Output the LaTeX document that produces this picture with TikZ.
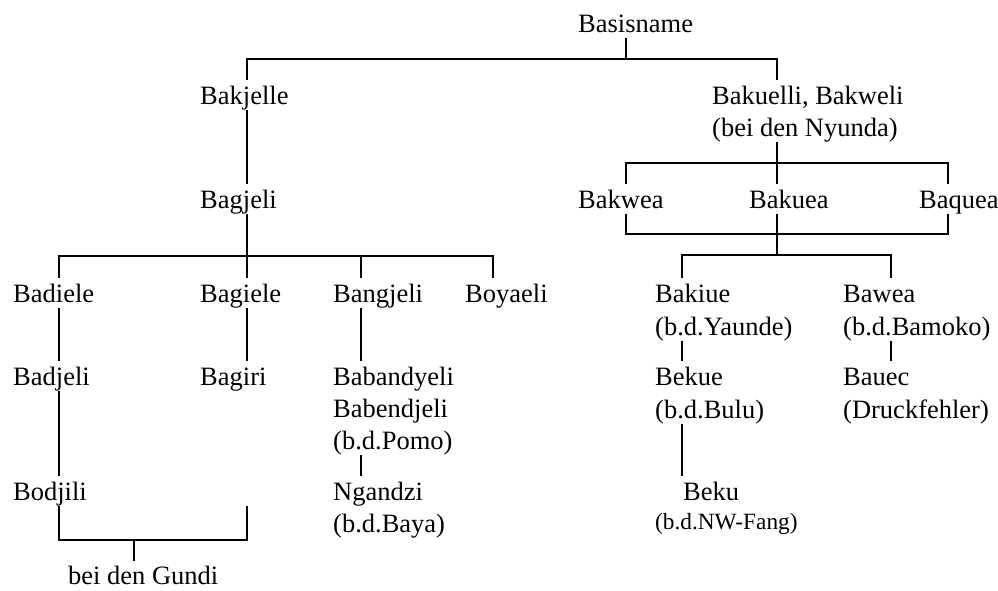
\documentclass[tikz,border=0pt]{standalone}
\usepackage{fontspec}
\setmainfont{Liberation Serif}
\begin{document}
\begin{tikzpicture}[x=1pt,y=-1pt,
  lbl/.style={anchor=base west,inner sep=0pt,text height=25pt,text depth=7pt,
    font=\fontsize{26.5}{32}\selectfont},
  small/.style={font=\fontsize{23.3}{28}\selectfont},
  link/.style={line width=2pt,line cap=rect}]
\useasboundingbox (0,0) rectangle (998,590);

% column positions of the vertical strokes
\coordinate (c1) at (59,0);
\coordinate (c2) at (134,0);
\coordinate (c3) at (247,0);
\coordinate (c4) at (361,0);
\coordinate (c5) at (493,0);
\coordinate (c6) at (626,0);
\coordinate (c7) at (682,0);
\coordinate (c8) at (777,0);
\coordinate (c9) at (891,0);
\coordinate (c10) at (948,0);
% levels of the horizontal bars
\coordinate (rT) at (0,59);
\coordinate (rL) at (0,256);
\coordinate (rR1) at (0,163);
\coordinate (rR2) at (0,234);
\coordinate (rR3) at (0,255);
\coordinate (rG) at (0,540);

% names
\node[lbl] (basis) at (578,32) {Basisname};
\node[lbl] (bakjelle) at (200,104) {Bakjelle};
\node[lbl] (bakuelli) at (712,104) {Bakuelli, Bakweli};
\node[lbl] (bakuelliB) at (712,136) {(bei den Nyunda)};
\node[lbl] (bagjeli) at (200,208) {Bagjeli};
\node[lbl] (bakwea) at (578,208) {Bakwea};
\node[lbl] (bakuea) at (749,208) {Bakuea};
\node[lbl] (baquea) at (919,208) {Baquea};
\node[lbl] (badiele) at (13,302) {Badiele};
\node[lbl] (bagiele) at (200,302) {Bagiele};
\node[lbl] (bangjeli) at (333,302) {Bangjeli};
\node[lbl] (boyaeli) at (465,302) {Boyaeli};
\node[lbl] (bakiue) at (655,302) {Bakiue};
\node[lbl] (bawea) at (843,302) {Bawea};
\node[lbl] (bakiueB) at (655,335) {(b.d.Yaunde)};
\node[lbl] (baweaB) at (843,335) {(b.d.Bamoko)};
\node[lbl] (badjeli) at (13,385) {Badjeli};
\node[lbl] (bagiri) at (200,385) {Bagiri};
\node[lbl] (babandyeli) at (333,385) {Babandyeli};
\node[lbl] (bekue) at (655,385) {Bekue};
\node[lbl] (bauec) at (843,385) {Bauec};
\node[lbl] (babendjeli) at (333,417) {Babendjeli};
\node[lbl] (bekueB) at (655,418) {(b.d.Bulu)};
\node[lbl] (bauecB) at (843,418) {(Druckfehler)};
\node[lbl] (pomo) at (333,449) {(b.d.Pomo)};
\node[lbl] (bodjili) at (13,500) {Bodjili};
\node[lbl] (ngandzi) at (333,500) {Ngandzi};
\node[lbl] (beku) at (683,500) {Beku};
\node[lbl] (baya) at (333,532) {(b.d.Baya)};
\node[lbl,small] (bekuB) at (655,529) {(b.d.NW-Fang)};
\node[lbl,text height=24pt] (gundi) at (68,584) {bei den Gundi};

% top split
\draw[link] (basis.south -| c6) -- (rT -| c6);
\draw[link] (bakjelle.north -| c3) |- (rT -| c8) -- (bakuelli.north -| c8);

% left branch
\draw[link] (bakjelle.south -| c3) -- (bagjeli.north -| c3);
\draw[link] (bagjeli.south -| c3) -- (bagiele.north -| c3);
\draw[link] (badiele.north -| c1) |- (rL -| c5) -- (boyaeli.north -| c5);
\draw[link] (rL -| c4) -- (bangjeli.north -| c4);
\draw[link] (badiele.south -| c1) -- (badjeli.north -| c1);
\draw[link] (bagiele.south -| c3) -- (bagiri.north -| c3);
\draw[link] (bangjeli.south -| c4) -- (babandyeli.north -| c4);
\draw[link] (badjeli.south -| c1) -- (bodjili.north -| c1);
\draw[link] (pomo.south -| c4) -- (ngandzi.north -| c4);
\draw[link] (bodjili.south -| c1) |- (rG -| c3) -- (bodjili.south -| c3);
\draw[link] (rG -| c2) -- (gundi.north -| c2);

% right branch
\draw[link] (bakuelliB.south -| c8) -- (bakuea.north -| c8);
\draw[link] (bakwea.north -| c6) |- (rR1 -| c10) -- (baquea.north -| c10);
\draw[link] (bakwea.south -| c6) |- (rR2 -| c10) -- (baquea.south -| c10);
\draw[link] (bakuea.south -| c8) -- (rR3 -| c8);
\draw[link] (bakiue.north -| c7) |- (rR3 -| c9) -- (bawea.north -| c9);
\draw[link] (bakiueB.south -| c7) -- (bekue.north -| c7);
\draw[link] (baweaB.south -| c9) -- (bauec.north -| c9);
\draw[link] (bekueB.south -| c7) -- (beku.north -| c7);
\end{tikzpicture}
\end{document}
